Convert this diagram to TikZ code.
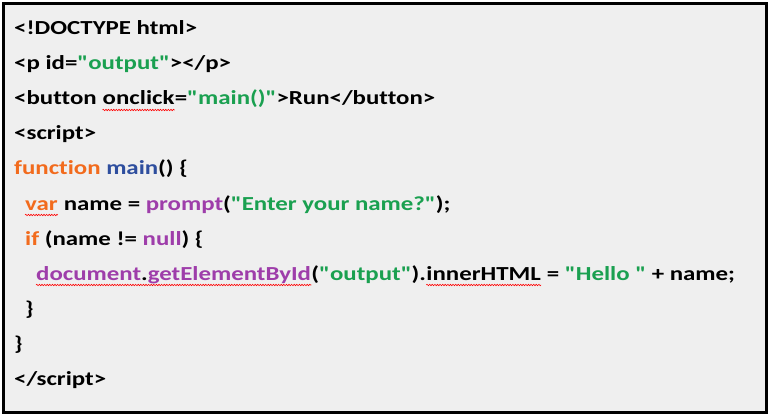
\documentclass[tikz,border=0pt]{standalone}
\usepackage{fontspec}
\setmainfont{Carlito}[Ligatures={TeXOff,NoCommon}, FakeStretch=1.25]
\usetikzlibrary{decorations.pathmorphing}
\definecolor{kworange}{RGB}{242,107,29}
\definecolor{fnblue}{RGB}{46,78,158}
\definecolor{objpurple}{RGB}{158,61,170}
\definecolor{strgreen}{RGB}{26,160,80}
\definecolor{panelgray}{RGB}{239,239,239}
\newcommand{\kw}[1]{\textcolor{kworange}{#1}}
\newcommand{\fn}[1]{\textcolor{fnblue}{#1}}
\newcommand{\obj}[1]{\textcolor{objpurple}{#1}}
\newcommand{\str}[1]{\textcolor{strgreen}{#1}}
\begin{document}
\begin{tikzpicture}[x=1pt, y=-1pt,
    codeline/.style ={anchor=base west, inner sep=0pt,
      font=\fontsize{19.9}{24}\selectfont\bfseries},
    spellmark/.style ={red, line width=0.6pt, decorate,
      decoration={snake, amplitude=0.7pt, segment length=2.6pt}}]
   \useasboundingbox (0,0) rectangle (771,417);
   \draw[line width=3pt, fill=panelgray] (3.2,3.2) rectangle (766,412);
   \node[codeline] (doctype) at (14,35)  {<!DOCTYPE html>};
   \node[codeline] (para)    at (14,70)  {<p id=\str{"output"}></p>};
   \node[codeline] (btn)     at (14,105) {<button\ \null};
   \node[codeline] (onclick) at (btn.base east) {onclick};
   \node[codeline] (btnrest) at (onclick.base east) {=\str{"main()"}>Run</button>};
   \node[codeline] (script)  at (14,140) {<script>};
   \node[codeline] (func)    at (14,175) {\kw{function} \fn{main}() \{};
   \node[codeline] (var)     at (25,210) {\kw{var}};
   \node[codeline] (prompt)  at (var.base east) {\ name = \obj{prompt}(\str{"Enter your name?"});};
   \node[codeline] (iftest)  at (25,245) {\kw{if} (name != \obj{null}) \{};
   \node[codeline] (getid)   at (36,280) {\obj{document}.\obj{getElementById}};
   \node[codeline] (arg)     at (getid.base east) {(\str{"output"}).};
   \node[codeline] (inner)   at (arg.base east) {innerHTML};
   \node[codeline] (hello)   at (inner.base east) {\ = \str{"Hello "} + name;};
   \node[codeline] (ifend)   at (25,315) {\}};
   \node[codeline] (funcend) at (14,350) {\}};
   \node[codeline] (endscr)  at (14,385) {</script>};
   % spell check marks
   \draw[spellmark] ([yshift=-5pt]onclick.base west) -- ([yshift=-5pt]onclick.base east);
   \draw[spellmark] ([yshift=-5pt]var.base west) -- ([yshift=-5pt]var.base east);
   \draw[spellmark] ([yshift=-5pt]getid.base west) -- ([yshift=-5pt]getid.base east);
   \draw[spellmark] ([yshift=-5pt]inner.base west) -- ([yshift=-5pt]inner.base east);
\end{tikzpicture}
\end{document}
